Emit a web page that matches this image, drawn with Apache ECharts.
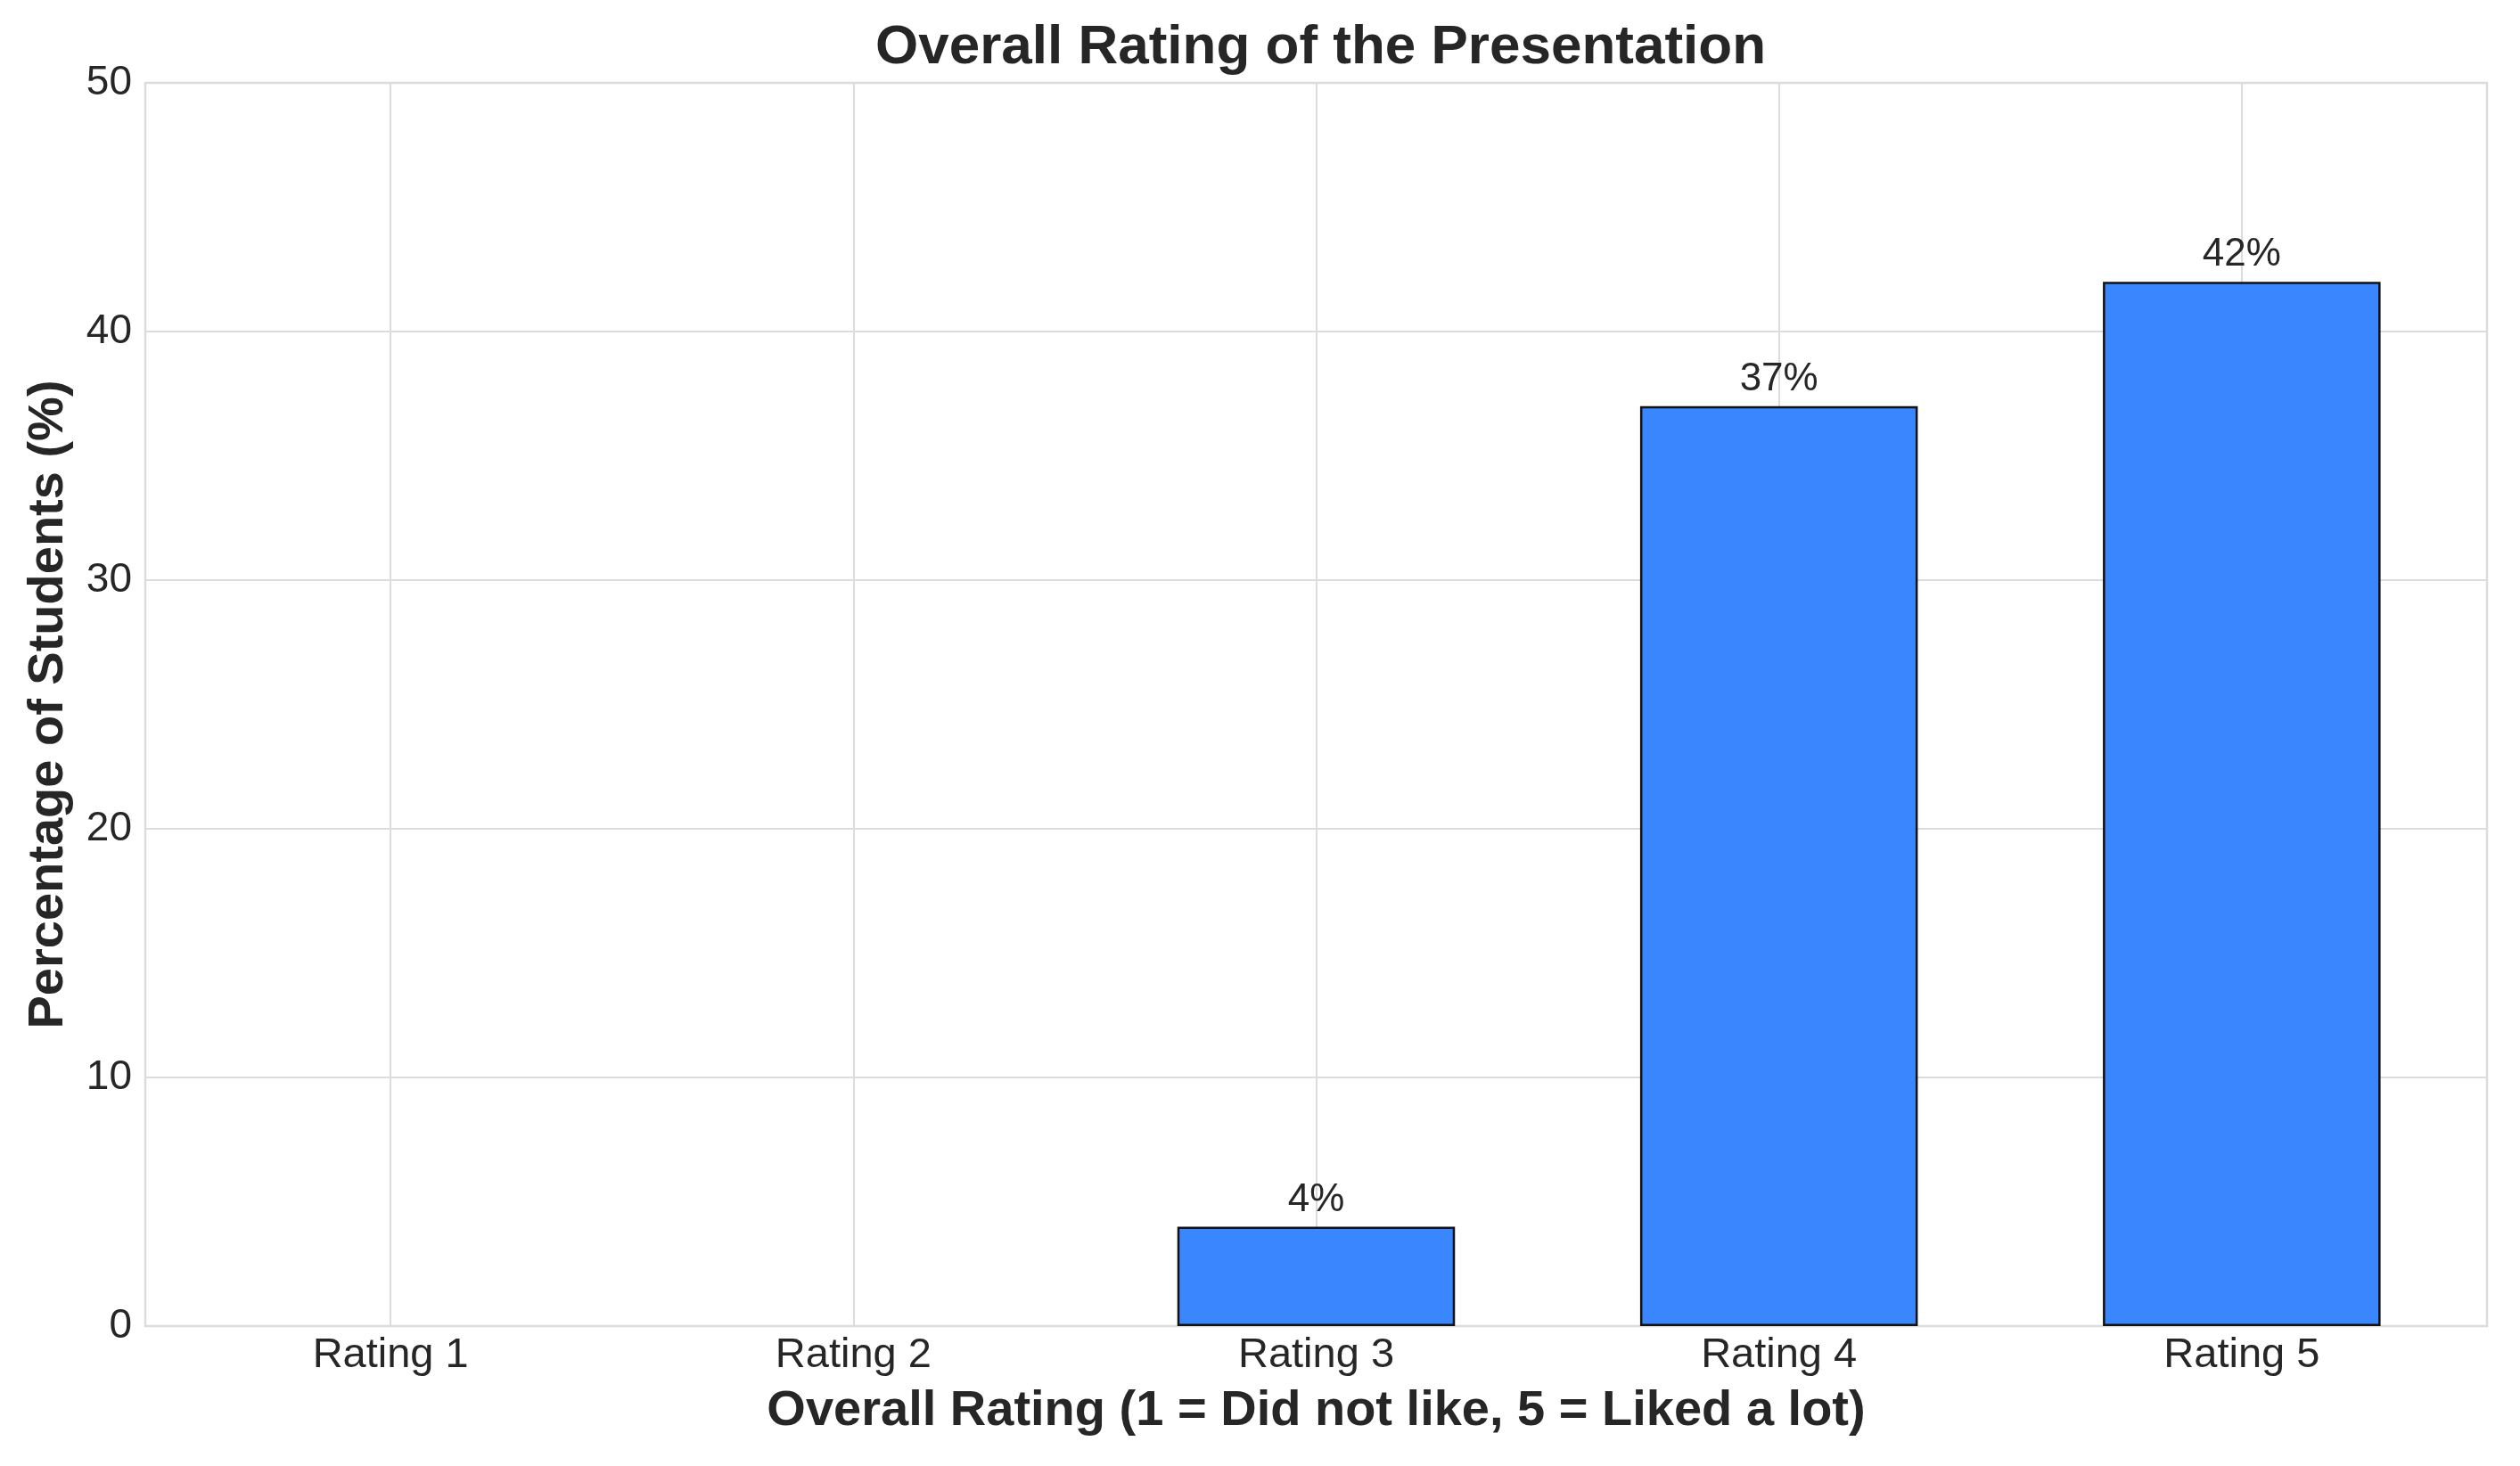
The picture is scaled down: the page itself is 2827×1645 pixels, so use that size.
<!DOCTYPE html>
<html>
<head>
<meta charset="utf-8">
<script src="https://cdn.jsdelivr.net/npm/echarts@6/dist/echarts.min.js"></script>
<style>
  html, body { margin: 0; padding: 0; background: #ffffff; }
  #chart { width: 2827px; height: 1645px; }
</style>
</head>
<body>
<div id="chart"></div>
<script>
// ---- data ----
const categories = ['Rating 1', 'Rating 2', 'Rating 3', 'Rating 4', 'Rating 5'];
const percentages = [0, 0, 4, 37, 42];
const yTicks = [0, 10, 20, 30, 40, 50];

const titleText = 'Overall Rating of the Presentation';
const xAxisTitle = 'Overall Rating (1 = Did not like, 5 = Liked a lot)';
const yAxisTitle = 'Percentage of Students (%)';

// ---- styling ----
const FONT = "'Liberation Sans', Arial, Helvetica, sans-serif";
const TEXT = '#262626';
const GRID = '#dcdcdc';
const BAR = '#3a86ff';

const W = 2827, H = 1645;
const plot = { left: 163, right: 2790, top: 93, bottom: 1488 };
// matplotlib-like x margins: xlim [-0.53, 4.53] -> inset category band area
const units = categories.length + 0.06;
const unitPx = (plot.right - plot.left) / units;
const inset = 0.03 * unitPx;

const barData = percentages.map(v => (
  v > 0 ? { value: v } : { value: v, itemStyle: { borderWidth: 0, color: 'rgba(0,0,0,0)' } }
));

const chart = echarts.init(document.getElementById('chart'), null, { renderer: 'canvas' });

const option = {
  backgroundColor: '#ffffff',
  animation: false,
  textStyle: { fontFamily: FONT, color: TEXT },
  title: {
    text: titleText,
    left: (plot.left + plot.right) / 2,
    textAlign: 'center',
    top: 18,
    textStyle: { fontFamily: FONT, fontSize: 62, fontWeight: 'bold', color: TEXT }
  },
  grid: [
    {
      left: plot.left, right: W - plot.right, top: plot.top, bottom: H - plot.bottom,
      show: true, borderColor: GRID, borderWidth: 2.5, backgroundColor: 'transparent'
    },
    {
      left: plot.left + inset, right: W - plot.right + inset, top: plot.top, bottom: H - plot.bottom,
      show: false
    }
  ],
  xAxis: [
    {
      gridIndex: 0, type: 'value', min: 0, max: 1,
      axisLine: { show: false }, axisTick: { show: false }, axisLabel: { show: false },
      splitLine: { show: false }
    },
    {
      gridIndex: 1, type: 'category', data: categories, boundaryGap: true,
      axisLine: { show: false }, axisTick: { show: false },
      axisLabel: { fontFamily: FONT, fontSize: 47, color: TEXT, margin: 10 },
      splitLine: { show: true, alignWithLabel: true, lineStyle: { color: GRID, width: 2 } },
      name: xAxisTitle, nameLocation: 'middle', nameGap: 68,
      nameTextStyle: { fontFamily: FONT, fontSize: 56, fontWeight: 'bold', color: TEXT }
    }
  ],
  yAxis: [
    {
      gridIndex: 0, type: 'value', min: yTicks[0], max: yTicks[yTicks.length - 1], interval: 10,
      axisLine: { show: false }, axisTick: { show: false },
      axisLabel: { fontFamily: FONT, fontSize: 46, color: TEXT, margin: 15 },
      splitLine: { show: true, lineStyle: { color: GRID, width: 2 } },
      name: yAxisTitle, nameLocation: 'middle', nameGap: 80, nameRotate: 90,
      nameTextStyle: { fontFamily: FONT, fontSize: 56, fontWeight: 'bold', color: TEXT }
    },
    {
      gridIndex: 1, type: 'value', min: yTicks[0], max: yTicks[yTicks.length - 1],
      axisLine: { show: false }, axisTick: { show: false }, axisLabel: { show: false },
      splitLine: { show: false }
    }
  ],
  series: [
    {
      type: 'bar',
      xAxisIndex: 1, yAxisIndex: 1,
      data: barData,
      barWidth: '60%',
      itemStyle: { color: BAR, borderColor: '#111111', borderWidth: 2.5 },
      label: {
        show: true, position: 'top', distance: 8,
        fontFamily: FONT, fontSize: 44, color: TEXT,
        formatter: p => (p.value > 0 ? p.value + '%' : '')
      }
    }
  ]
};

chart.setOption(option);
</script>
</body>
</html>
